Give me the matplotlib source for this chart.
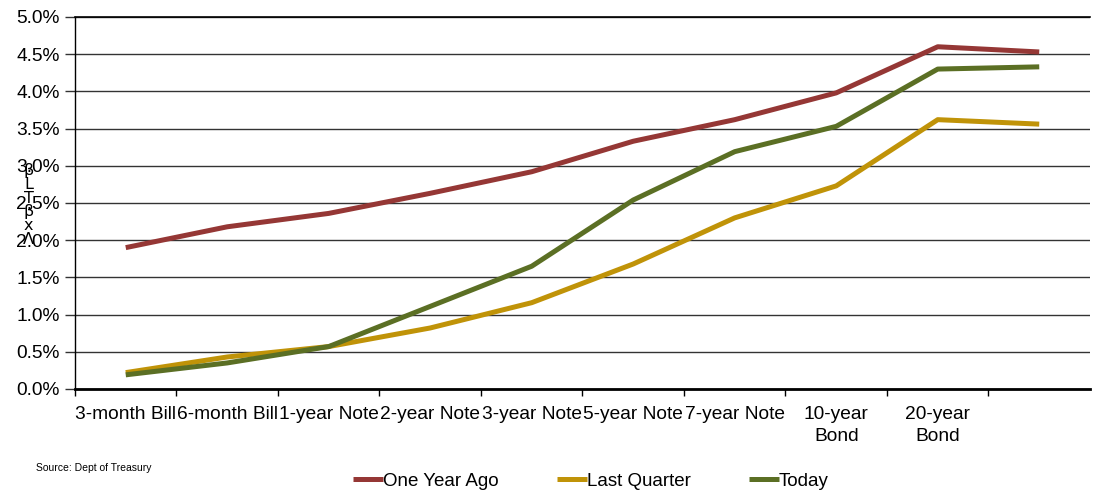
import matplotlib
matplotlib.use("Agg")
import matplotlib.pyplot as plt
from matplotlib.ticker import PercentFormatter, FixedLocator, NullFormatter

# maturities (last point has no label)
categories = ["3-month Bill", "6-month Bill", "1-year Note", "2-year Note", "3-year Note",
              "5-year Note", "7-year Note", "10-year\nBond", "20-year\nBond", ""]

one_year_ago = [1.90, 2.18, 2.36, 2.63, 2.92, 3.33, 3.62, 3.98, 4.60, 4.53]
last_quarter = [0.22, 0.43, 0.57, 0.82, 1.16, 1.68, 2.30, 2.73, 3.62, 3.56]
today = [0.19, 0.35, 0.57, 1.11, 1.65, 2.54, 3.19, 3.53, 4.30, 4.33]

series_names = ["One Year Ago", "Last Quarter", "Today"]
series_colors = ["#953735", "#C09308", "#5B6F24"]

plt.rcParams["font.family"] = ["Liberation Sans", "DejaVu Sans"]

fig = plt.figure(figsize=(10.98, 4.94), dpi=100)
ax = fig.add_axes([0.0683, 0.2126, 0.9244, 0.753])

x = list(range(len(categories)))
for vals, name, col in zip([one_year_ago, last_quarter, today], series_names, series_colors):
    ax.plot(x, vals, color=col, lw=3.6, label=name, solid_capstyle="butt")

ax.set_xlim(-0.5, len(categories) - 0.5)
ax.set_ylim(0, 5)
ax.set_yticks([i * 0.5 for i in range(11)])
ax.yaxis.set_major_formatter(PercentFormatter(decimals=1))
ax.grid(axis="y", color="#333333", lw=1)
ax.set_axisbelow(True)

# category labels centred, ticks between categories
ax.set_xticks(x)
ax.set_xticklabels(categories, fontsize=13.8, linespacing=1.45)
ax.tick_params(axis="x", which="major", length=0, pad=12)
ax.xaxis.set_minor_locator(FixedLocator([i - 0.5 for i in range(len(categories))]))
ax.xaxis.set_minor_formatter(NullFormatter())
ax.tick_params(axis="x", which="minor", length=5, width=1, color="black")
ax.tick_params(axis="y", labelsize=13.8, length=7, width=1, color="#333333", pad=4)

ax.spines["right"].set_visible(False)
ax.spines["top"].set_linewidth(1.2)
ax.spines["left"].set_linewidth(1)
ax.spines["bottom"].set_linewidth(2)

# garbled stacked axis title
fig.text(0.026, 0.585, "β\nL\nT\nβ\nx\nΛ", fontsize=11.5, ha="center", va="center",
         linespacing=0.9, family=["DejaVu Sans"])

fig.text(0.033, 0.047, "Source: Dept of Treasury", fontsize=7.5,
         family=["Liberation Sans Narrow", "Liberation Sans"])

leg = fig.legend(loc="center", bbox_to_anchor=(0.538, 0.026), ncol=3, frameon=False,
                 handlelength=1.6, handletextpad=0.0, columnspacing=3.1,
                 prop={"family": ["Liberation Sans Narrow", "Liberation Sans"], "size": 13.5})

fig.savefig("out.png", dpi=100)
